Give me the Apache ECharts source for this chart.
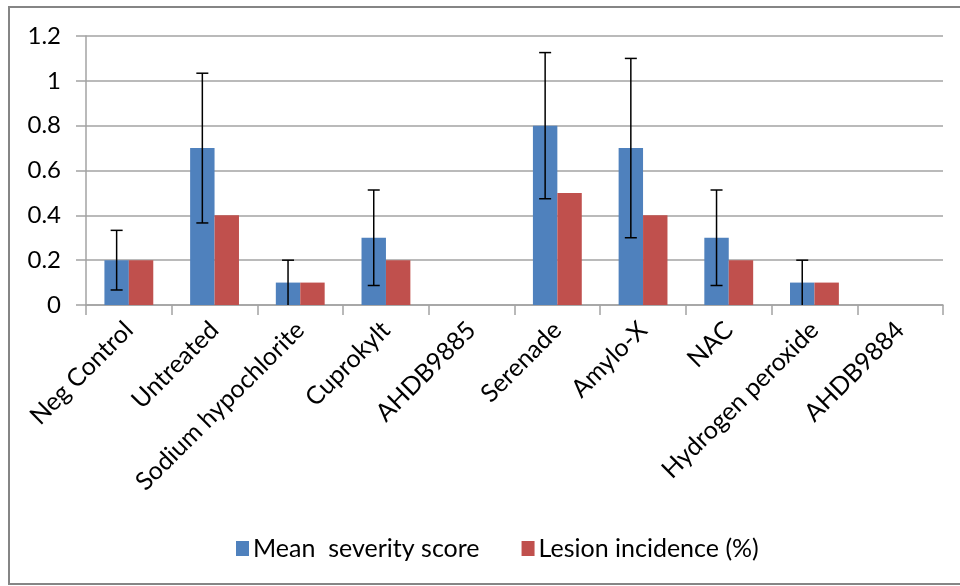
<!DOCTYPE html>
<html>
<head>
<meta charset="utf-8">
<script src="https://cdn.jsdelivr.net/npm/echarts@6/dist/echarts.min.js"></script>
<style>
  body { margin: 0; background: #fff; }
  #main { width: 960px; height: 586px; }
</style>
</head>
<body>
<div id="main"></div>
<script>
const categories = ["Neg Control", "Untreated", "Sodium hypochlorite", "Cuprokylt", "AHDB9885",
  "Serenade", "Amylo-X", "NAC", "Hydrogen peroxide", "AHDB9884"];
const severity = [0.2, 0.7, 0.1, 0.3, 0, 0.8, 0.7, 0.3, 0.1, 0];
const incidence = [0.2, 0.4, 0.1, 0.2, 0, 0.5, 0.4, 0.2, 0.1, 0];
// error bars on the severity series (upper / lower ends)
const errHigh = [0.333, 1.034, 0.2, 0.513, null, 1.126, 1.1, 0.513, 0.2, null];
const errLow = [0.067, 0.366, 0, 0.087, null, 0.474, 0.3, 0.087, 0, null];
const yTicks = [0, 0.2, 0.4, 0.6, 0.8, 1, 1.2];

const font = "Lato";
const grey = "#a3a3a3";

const errData = [];
categories.forEach((c, i) => {
  if (errHigh[i] != null) errData.push([i, errHigh[i], errLow[i]]);
});

const myChart = echarts.init(document.getElementById("main"));
let option = {
  animation: false,
  textStyle: { fontFamily: font },
  graphic: [{
    type: "rect",
    shape: { x: 9, y: 7, width: 960, height: 577 },
    style: { fill: "none", stroke: "#858585", lineWidth: 2 },
    silent: true,
  }],
  legend: {
    data: ["Mean  severity score", "Lesion incidence (%)"],
    left: 231,
    top: 531,
    itemWidth: 13,
    itemHeight: 15,
    itemGap: 42,
    icon: "rect",
    textStyle: { fontFamily: font, fontSize: 25, color: "#000", padding: [0, 0, 0, -1] },
  },
  grid: {
    left: 86,
    right: 17,
    top: 36,
    bottom: 281,
  },
  xAxis: {
    type: "category",
    data: categories,
    axisLine: { lineStyle: { color: grey, width: 1.5 } },
    axisTick: { show: true, length: 10, lineStyle: { color: grey, width: 1.5 } },
    axisLabel: {
      rotate: 45,
      interval: 0,
      margin: 21,
      fontFamily: font,
      fontSize: 25,
      color: "#000",
    },
  },
  yAxis: {
    type: "value",
    min: yTicks[0],
    max: yTicks[yTicks.length - 1],
    interval: 0.2,
    axisLine: { show: true, lineStyle: { color: grey, width: 1.5 } },
    axisTick: { show: true, length: 10, lineStyle: { color: grey, width: 1.5 } },
    splitLine: { lineStyle: { color: grey, width: 1.5 } },
    axisLabel: {
      margin: 25,
      fontFamily: font,
      fontSize: 24,
      color: "#000",
    },
  },
  series: [
    {
      name: "Mean  severity score",
      type: "bar",
      data: severity,
      barGap: "0%",
      barCategoryGap: "43%",
      itemStyle: { color: "#4f81bd" },
    },
    {
      name: "Lesion incidence (%)",
      type: "bar",
      data: incidence,
      itemStyle: { color: "#c0504d" },
    },
    {
      name: "err",
      type: "custom",
      z: 5,
      data: errData,
      renderItem(params, api) {
        const idx = api.value(0);
        const hi = api.value(1);
        const lo = api.value(2);
        const catW = api.size([1, 0])[0];
        const x = api.coord([idx, 0])[0] - catW * 0.1425;
        const yHi = api.coord([idx, hi])[1];
        const yLo = api.coord([idx, lo])[1];
        const cap = 6;
        const style = { stroke: "#000", lineWidth: 1.5 };
        const children = [
          { type: "line", shape: { x1: x, y1: yHi, x2: x, y2: yLo }, style },
          { type: "line", shape: { x1: x - cap, y1: yHi, x2: x + cap, y2: yHi }, style },
        ];
        if (lo > 0) {
          children.push({ type: "line", shape: { x1: x - cap, y1: yLo, x2: x + cap, y2: yLo }, style });
        }
        return { type: "group", children };
      },
    },
  ],
};
myChart.setOption(option);
</script>
</body>
</html>
